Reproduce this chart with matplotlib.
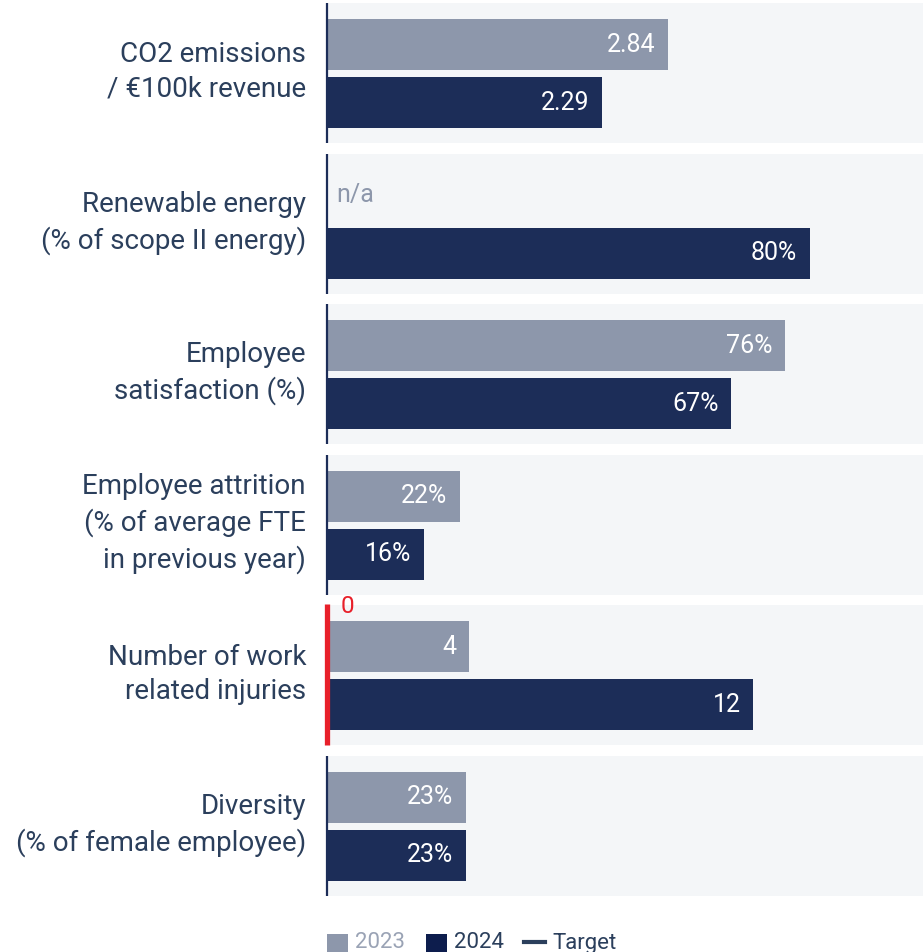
import matplotlib
matplotlib.use('Agg')
import matplotlib.pyplot as plt
import matplotlib.patches as patches

plt.rcParams['font.family'] = ['Roboto', 'DejaVu Sans']

# data
categories = [
    "CO2 emissions\n/ \u20ac100k revenue",
    "Renewable energy\n(% of scope II energy)",
    "Employee\nsatisfaction (%)",
    "Employee attrition\n(% of average FTE\nin previous year)",
    "Number of work\nrelated injuries",
    "Diversity\n(% of female employee)",
]
values_2023 = [2.84, None, 76, 22, 4, 23]
values_2024 = [2.29, 80, 67, 16, 12, 23]
labels_2023 = ["2.84", "n/a", "76%", "22%", "4", "23%"]
labels_2024 = ["2.29", "80%", "67%", "16%", "12", "23%"]
targets = [None, None, None, None, 0, None]
target_labels = [None, None, None, None, "0", None]
# each metric has its own axis range
axis_max = [4.97, 98.8, 98.8, 98.8, 16.77, 98.8]

C23 = '#8d97ab'
C24 = '#1c2d58'
TXT = '#2b3f5c'
BG = '#f4f6f8'
RED = '#e8202a'

W, H = 923, 952
fig = plt.figure(figsize=(W / 100, H / 100), dpi=100, facecolor='white')

left_px, right_px = 327, 923
panel_top0, panel_h, panel_step = 3, 140, 150.6

for i, cat in enumerate(categories):
    top = panel_top0 + i * panel_step
    ax = fig.add_axes([left_px / W, 1 - (top + panel_h) / H,
                       (right_px - left_px) / W, panel_h / H])
    ax.set_facecolor(BG)
    ax.set_xlim(0, axis_max[i])
    ax.set_ylim(panel_h, 0)
    for s in ax.spines.values():
        s.set_visible(False)
    ax.set_xticks([])
    ax.set_yticks([])

    y23, y24 = 41.5, 99.5
    if values_2023[i] is not None:
        ax.barh(y23, values_2023[i], height=51, color=C23, zorder=2)
        ax.annotate(labels_2023[i], (values_2023[i], y23), xytext=(-9, 0),
                    textcoords='offset points', ha='right', va='center',
                    color='white', fontsize=18, zorder=3)
    else:
        # no value for this year
        ax.annotate(labels_2023[i], (0, y23), xytext=(6.5, 0),
                    textcoords='offset points', ha='left', va='center',
                    color=C23, fontsize=18, zorder=3)
    ax.barh(y24, values_2024[i], height=51, color=C24, zorder=2)
    ax.annotate(labels_2024[i], (values_2024[i], y24), xytext=(-9, 0),
                textcoords='offset points', ha='right', va='center',
                color='white', fontsize=18, zorder=3)

    if targets[i] is not None:
        ax.plot([targets[i], targets[i]], [-1, panel_h], color=RED, lw=3.8,
                solid_capstyle='butt', clip_on=False, zorder=5)
        ax.annotate(target_labels[i], (targets[i], 1), xytext=(10, 0),
                    textcoords='offset points', ha='left', va='center',
                    color=RED, fontsize=17.5, zorder=5)
    else:
        ax.plot([0, 0], [0, panel_h], color=C24, lw=1.6,
                solid_capstyle='butt', clip_on=False, zorder=5)

    ax.text(-21 / 596 * axis_max[i], panel_h / 2 - 1, cat, ha='right', va='center',
            color=TXT, fontsize=20, linespacing=1.36, clip_on=False)

# legend
legend_y = 942
items = [(327, 'patch', C23, '2023', '#9aa3b5'),
         (426, 'patch', '#0d1d4d', '2024', TXT),
         (524, 'line', TXT, 'Target', TXT)]
for x, kind, col, lab, tcol in items:
    if kind == 'patch':
        fig.patches.append(patches.Rectangle((x / W, 1 - 952 / H), 21 / W, 18 / H,
                                             transform=fig.transFigure,
                                             facecolor=col, edgecolor='none'))
    else:
        fig.lines.append(plt.Line2D([x / W, (x + 21) / W],
                                    [1 - legend_y / H, 1 - legend_y / H],
                                    transform=fig.transFigure, color=col, lw=3))
    fig.text((x + 28) / W, 1 - (legend_y + 1) / H, lab, ha='left', va='center',
             color=tcol, fontsize=16)

fig.savefig('out.png', dpi=100, facecolor='white')
